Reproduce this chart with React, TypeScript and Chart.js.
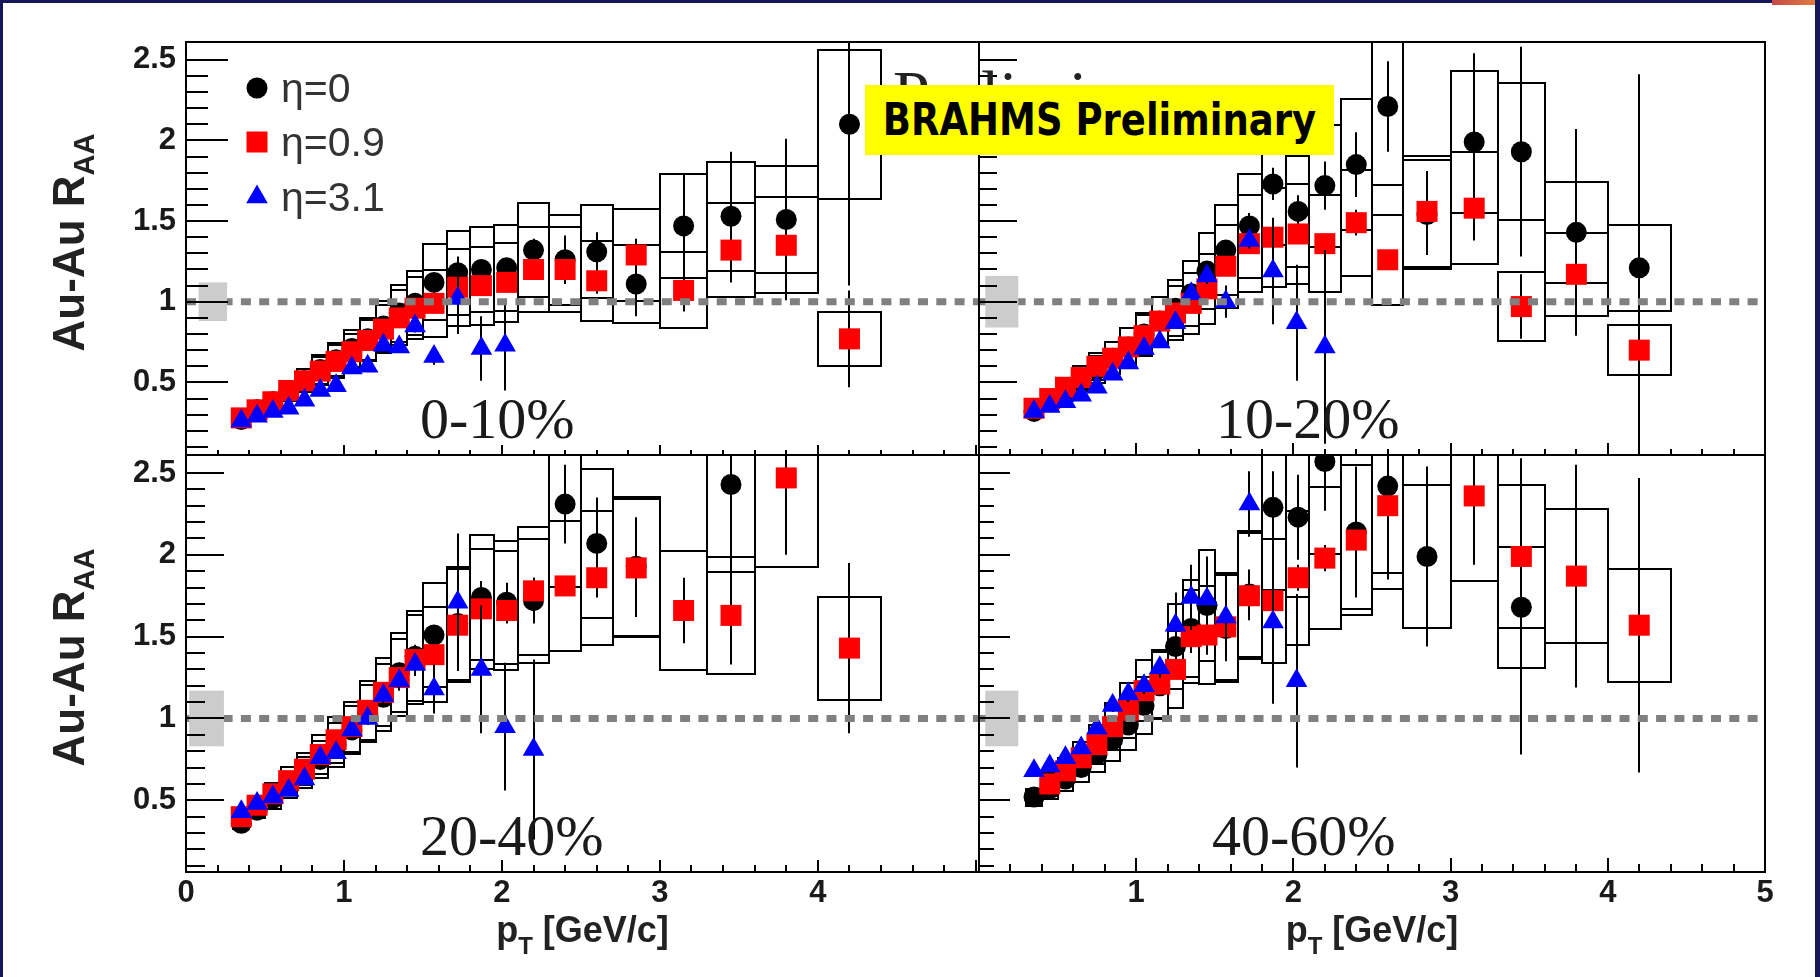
import React, { useEffect, useRef } from 'react';
import { Chart, registerables } from 'chart.js';

Chart.register(...registerables);

const W = 1820;
const H = 977;

// ---------- shared binning ----------
const ptBins = [0.35, 0.45, 0.55, 0.65, 0.75, 0.85, 0.95, 1.05, 1.15, 1.25, 1.35, 1.45, 1.57, 1.72, 1.87, 2.03, 2.2, 2.4, 2.6, 2.85, 3.15, 3.45, 3.8, 4.2];
const ptEdges = [0.3, 0.4, 0.5, 0.6, 0.7, 0.8, 0.9, 1.0, 1.1, 1.2, 1.3, 1.4, 1.5, 1.65, 1.8, 1.95, 2.1, 2.3, 2.5, 2.7, 3.0, 3.3, 3.6, 4.0, 4.4];
const ptFwd = [0.35, 0.45, 0.55, 0.65, 0.75, 0.85, 0.95, 1.05, 1.15, 1.25, 1.35, 1.45, 1.57, 1.72, 1.87, 2.02, 2.2];
const sysFrac = [0.10, 0.11, 0.12, 0.13, 0.14, 0.15, 0.16, 0.16, 0.17, 0.18, 0.19, 0.20, 0.21, 0.22, 0.22, 0.22, 0.22, 0.22, 0.22, 0.22, 0.22, 0.22, 0.22, 0.22];

// ---------- ticks ----------
const yMajor = [0.5, 1, 1.5, 2, 2.5];
const yMinor = [0.1, 0.2, 0.3, 0.4, 0.6, 0.7, 0.8, 0.9, 1.1, 1.2, 1.3, 1.4, 1.6, 1.7, 1.8, 1.9, 2.1, 2.2, 2.3, 2.4];
const xMajor = [0, 1, 2, 3, 4, 5];
const xMinor = [0.2, 0.4, 0.6, 0.8, 1.2, 1.4, 1.6, 1.8, 2.2, 2.4, 2.6, 2.8, 3.2, 3.4, 3.6, 3.8, 4.2, 4.4, 4.6, 4.8];
const xLabelsLeft = [0, 1, 2, 3, 4];
const xLabelsRight = [1, 2, 3, 4, 5];

// ---------- 0-10% ----------
const c0_eta0 = [0.27, 0.33, 0.38, 0.44, 0.51, 0.58, 0.64, 0.71, 0.77, 0.85, 0.93, 0.99, 1.12, 1.18, 1.20, 1.21, 1.32, 1.26, 1.31, 1.11, 1.47, 1.53, 1.51, 2.10];
const c0_eta0Err = [0.01, 0.01, 0.01, 0.01, 0.01, 0.02, 0.02, 0.02, 0.02, 0.03, 0.03, 0.03, 0.04, 0.10, 0.05, 0.05, 0.07, 0.15, 0.12, 0.20, 0.32, 0.40, 0.50, 1.00];
const c0_eta09 = [0.28, 0.33, 0.38, 0.45, 0.51, 0.57, 0.63, 0.69, 0.76, 0.83, 0.90, 0.96, 0.99, 1.09, 1.10, 1.12, 1.20, 1.20, 1.13, 1.29, 1.07, 1.32, 1.35, 0.77];
const c0_eta09Err = [0.01, 0.01, 0.01, 0.01, 0.01, 0.01, 0.02, 0.02, 0.02, 0.02, 0.03, 0.03, 0.04, 0.05, 0.06, 0.06, 0.06, 0.07, 0.08, 0.10, 0.13, 0.20, 0.30, 0.30];
const c0_eta31 = [0.26, 0.29, 0.32, 0.34, 0.39, 0.45, 0.48, 0.59, 0.60, 0.73, 0.72, 0.85, 0.66, 1.02, 0.71, 0.73];
const c0_eta31Err = [0.01, 0.01, 0.01, 0.01, 0.01, 0.02, 0.02, 0.02, 0.02, 0.03, 0.03, 0.04, 0.05, 0.22, 0.20, 0.28];

// ---------- 10-20% ----------
const c1_eta0 = [0.32, 0.38, 0.44, 0.51, 0.58, 0.65, 0.72, 0.80, 0.88, 0.96, 1.05, 1.19, 1.32, 1.47, 1.73, 1.56, 1.72, 1.85, 2.21, 1.54, 1.99, 1.93, 1.43, 1.21];
const c1_eta0Err = [0.01, 0.01, 0.01, 0.01, 0.02, 0.02, 0.02, 0.02, 0.03, 0.03, 0.04, 0.05, 0.06, 0.08, 0.10, 0.10, 0.15, 0.20, 0.28, 0.25, 0.55, 0.65, 0.64, 1.20];
const c1_eta09 = [0.34, 0.40, 0.47, 0.53, 0.60, 0.65, 0.72, 0.79, 0.88, 0.93, 0.99, 1.08, 1.22, 1.36, 1.40, 1.42, 1.36, 1.49, 1.26, 1.56, 1.58, 0.97, 1.17, 0.70];
const c1_eta09Err = [0.01, 0.01, 0.01, 0.01, 0.01, 0.02, 0.02, 0.02, 0.02, 0.03, 0.03, 0.04, 0.04, 0.05, 0.05, 0.06, 0.06, 0.08, 0.06, 0.25, 0.20, 0.20, 0.38, 0.65];
const c1_eta31 = [0.32, 0.35, 0.38, 0.42, 0.47, 0.55, 0.62, 0.71, 0.75, 0.87, 1.05, 1.16, 1.00, 1.38, 1.19, 0.87, 0.72];
const c1_eta31Err = [0.01, 0.01, 0.01, 0.01, 0.01, 0.02, 0.02, 0.02, 0.03, 0.03, 0.04, 0.05, 0.10, 0.05, 0.33, 0.36, 0.60];

// ---------- 20-40% ----------
const c2_eta0 = [0.36, 0.44, 0.51, 0.59, 0.67, 0.75, 0.84, 0.93, 1.03, 1.13, 1.28, 1.38, 1.51, 1.58, 1.74, 1.71, 1.72, 2.31, 2.07, 1.93, null, 2.43, null, null];
const c2_eta0Err = [0.01, 0.01, 0.01, 0.02, 0.02, 0.02, 0.03, 0.03, 0.04, 0.05, 0.06, 0.07, 0.06, 0.10, 0.10, 0.12, 0.14, 0.24, 0.28, 0.30, 0, 0.80, 0, 0];
const c2_eta09 = [0.40, 0.47, 0.54, 0.62, 0.69, 0.78, 0.87, 0.95, 1.05, 1.16, 1.25, 1.36, 1.39, 1.57, 1.67, 1.66, 1.78, 1.81, 1.86, 1.92, 1.66, 1.63, 2.47, 1.43];
const c2_eta09Err = [0.01, 0.01, 0.01, 0.01, 0.02, 0.02, 0.02, 0.03, 0.03, 0.04, 0.04, 0.05, 0.06, 0.06, 0.07, 0.08, 0.08, 0.06, 0.12, 0.30, 0.20, 0.30, 0.47, 0.52];
const c2_eta31 = [0.43, 0.48, 0.52, 0.56, 0.63, 0.76, 0.79, 0.93, 1.00, 1.14, 1.23, 1.33, 1.18, 1.71, 1.30, 0.95, 0.81];
const c2_eta31Err = [0.01, 0.01, 0.01, 0.02, 0.02, 0.02, 0.03, 0.03, 0.04, 0.05, 0.06, 0.07, 0.15, 0.42, 0.39, 0.39, 0.55];

// ---------- 40-60% ----------
const c3_eta0 = [0.52, 0.57, 0.63, 0.70, 0.78, 0.87, 0.96, 1.08, 1.20, 1.44, 1.55, 1.69, 1.55, 1.76, 2.29, 2.23, 2.57, 2.14, 2.42, 1.99, null, 1.68, null, null];
const c3_eta0Err = [0.02, 0.02, 0.02, 0.02, 0.03, 0.03, 0.04, 0.05, 0.06, 0.10, 0.15, 0.30, 0.10, 0.15, 0.22, 0.26, 0.30, 0.40, 0.35, 0.55, 0, 0.90, 0, 0];
const c3_eta09 = [null, 0.60, 0.68, 0.76, 0.84, 0.95, 1.05, 1.17, 1.21, 1.30, 1.50, 1.51, 1.56, 1.75, 1.72, 1.86, 1.98, 2.09, 2.30, null, 2.36, 1.99, 1.87, 1.57];
const c3_eta09Err = [0, 0.02, 0.02, 0.02, 0.03, 0.03, 0.04, 0.04, 0.05, 0.06, 0.07, 0.07, 0.08, 0.15, 0.10, 0.08, 0.08, 0.12, 0.45, 0, 0.42, 0.60, 0.68, 0.90];
const c3_eta31 = [0.68, 0.71, 0.76, 0.82, 0.94, 1.08, 1.15, 1.20, 1.31, 1.57, 1.74, 1.73, 1.62, 2.31, 1.59, 1.23];
const c3_eta31Err = [0.02, 0.02, 0.02, 0.03, 0.03, 0.04, 0.05, 0.05, 0.06, 0.20, 0.20, 0.15, 0.27, 0.20, 0.50, 0.53];

// normalisation uncertainty (grey box at R=1) per centrality
const normErr = [0.12, 0.16, 0.17, 0.17];
const centralityLabels = ['0-10%', '10-20%', '20-40%', '40-60%'];
const legendLabels = ['η=0', 'η=0.9', 'η=3.1'];

const SANS = '"Liberation Sans", Arial, Helvetica, sans-serif';
const SERIF = '"Liberation Serif", "Times New Roman", serif';
const TRI_R = 12.5;

type Panel = {
  id: number;
  eta0: (number | null)[]; eta0Err: number[];
  eta09: (number | null)[]; eta09Err: number[];
  eta31: (number | null)[]; eta31Err: number[];
  normX: [number, number];
  area: { left: number; top: number; right: number; bottom: number };
  xMax: number; yMin: number; yMax: number;
  xLabels: number[] | null; yLabels: boolean;
  tick: { yMaj: number; yMin: number; xMaj: number; xMin: number };
  labelPos: [number, number];
  legend: boolean; yTitle: boolean; xTitle: boolean; prelim: boolean;
};

const panels: Panel[] = [
  {
    id: 0, eta0: c0_eta0, eta0Err: c0_eta0Err, eta09: c0_eta09, eta09Err: c0_eta09Err, eta31: c0_eta31, eta31Err: c0_eta31Err,
    normX: [0.08, 0.26], area: { left: 186, top: 42, right: 979, bottom: 455 }, xMax: 5.02, yMin: 0.05, yMax: 2.61,
    xLabels: null, yLabels: true, tick: { yMaj: 42, yMin: 22, xMaj: 10, xMin: 5 }, labelPos: [420, 438],
    legend: true, yTitle: true, xTitle: false, prelim: false,
  },
  {
    id: 1, eta0: c1_eta0, eta0Err: c1_eta0Err, eta09: c1_eta09, eta09Err: c1_eta09Err, eta31: c1_eta31, eta31Err: c1_eta31Err,
    normX: [0.04, 0.25], area: { left: 979, top: 42, right: 1765, bottom: 455 }, xMax: 5, yMin: 0.05, yMax: 2.61,
    xLabels: null, yLabels: false, tick: { yMaj: 38, yMin: 18, xMaj: 12, xMin: 6 }, labelPos: [1216, 438],
    legend: false, yTitle: false, xTitle: false, prelim: true,
  },
  {
    id: 2, eta0: c2_eta0, eta0Err: c2_eta0Err, eta09: c2_eta09, eta09Err: c2_eta09Err, eta31: c2_eta31, eta31Err: c2_eta31Err,
    normX: [0.02, 0.24], area: { left: 186, top: 455, right: 979, bottom: 872 }, xMax: 5.02, yMin: 0.062, yMax: 2.61,
    xLabels: xLabelsLeft, yLabels: true, tick: { yMaj: 38, yMin: 19, xMaj: 12, xMin: 7 }, labelPos: [420, 855],
    legend: false, yTitle: true, xTitle: true, prelim: false,
  },
  {
    id: 3, eta0: c3_eta0, eta0Err: c3_eta0Err, eta09: c3_eta09, eta09Err: c3_eta09Err, eta31: c3_eta31, eta31Err: c3_eta31Err,
    normX: [0.04, 0.25], area: { left: 979, top: 455, right: 1765, bottom: 872 }, xMax: 5, yMin: 0.062, yMax: 2.61,
    xLabels: xLabelsRight, yLabels: false, tick: { yMaj: 31, yMin: 15, xMaj: 14, xMin: 8 }, labelPos: [1212, 855],
    legend: false, yTitle: false, xTitle: true, prelim: false,
  },
];

function drawMarker(ctx: CanvasRenderingContext2D, style: string, x: number, y: number, color: string) {
  ctx.fillStyle = color;
  ctx.beginPath();
  if (style === 'circle') {
    ctx.arc(x, y, 10.5, 0, Math.PI * 2);
  } else if (style === 'rect') {
    ctx.rect(x - 10.5, y - 10.5, 21, 21);
  } else {
    const r = TRI_R;
    ctx.moveTo(x, y - r);
    ctx.lineTo(x + r * Math.sin((2 * Math.PI) / 3), y - r * Math.cos((2 * Math.PI) / 3));
    ctx.lineTo(x + r * Math.sin((4 * Math.PI) / 3), y - r * Math.cos((4 * Math.PI) / 3));
    ctx.closePath();
  }
  ctx.fill();
}

function makePlugin(p: Panel) {
  return {
    id: 'panelDeco' + p.id,
    beforeDatasetDraw(chart: any, args: any) {
      const ds = chart.data.datasets[args.index];
      const xs = chart.scales.x;
      const ys = chart.scales.y;
      const ca = chart.chartArea;
      const ctx: CanvasRenderingContext2D = chart.ctx;
      ctx.save();
      ctx.beginPath();
      ctx.rect(ca.left, ca.top, ca.right - ca.left, ca.bottom - ca.top);
      ctx.clip();
      ctx.strokeStyle = '#000';
      ctx.lineWidth = 2;
      ds.data.forEach((pt: any, i: number) => {
        if (pt.y == null) return;
        if (ds.sysBox) {
          const s = pt.y * sysFrac[i];
          const x0 = Math.round(xs.getPixelForValue(ptEdges[i]));
          const x1 = Math.round(xs.getPixelForValue(ptEdges[i + 1]));
          const y0 = Math.round(ys.getPixelForValue(pt.y + s));
          const y1 = Math.round(ys.getPixelForValue(pt.y - s));
          ctx.strokeRect(x0, y0, x1 - x0, y1 - y0);
        }
        const e = ds.errs[i];
        if (e > 0) {
          const px = Math.round(xs.getPixelForValue(pt.x));
          ctx.beginPath();
          ctx.moveTo(px, ys.getPixelForValue(pt.y - e));
          ctx.lineTo(px, ys.getPixelForValue(pt.y + e));
          ctx.stroke();
        }
      });
      ctx.restore();
    },
    afterDatasetsDraw(chart: any) {
      const xs = chart.scales.x;
      const ys = chart.scales.y;
      const ca = chart.chartArea;
      const ctx: CanvasRenderingContext2D = chart.ctx;
      ctx.save();
      // dashed line at R_AA = 1
      const y1 = ys.getPixelForValue(1);
      ctx.strokeStyle = '#808080';
      ctx.lineWidth = 7;
      ctx.setLineDash([10, 8.3]);
      ctx.beginPath();
      ctx.moveTo(ca.left, y1);
      ctx.lineTo(ca.right, y1);
      ctx.stroke();
      ctx.setLineDash([]);
      // normalisation box
      const ne = normErr[p.id];
      const bx0 = xs.getPixelForValue(p.normX[0]);
      const bx1 = xs.getPixelForValue(p.normX[1]);
      const by0 = ys.getPixelForValue(1 + ne);
      const by1 = ys.getPixelForValue(1 - ne);
      ctx.fillStyle = '#cccccc';
      ctx.fillRect(bx0, by0, bx1 - bx0, by1 - by0);
      // frame
      ctx.strokeStyle = '#000';
      ctx.lineWidth = 2;
      ctx.strokeRect(ca.left, ca.top, ca.right - ca.left, ca.bottom - ca.top);
      // inward ticks
      ctx.beginPath();
      yMajor.forEach((v) => { const y = Math.round(ys.getPixelForValue(v)); ctx.moveTo(ca.left, y); ctx.lineTo(ca.left + p.tick.yMaj, y); });
      yMinor.forEach((v) => { const y = Math.round(ys.getPixelForValue(v)); ctx.moveTo(ca.left, y); ctx.lineTo(ca.left + p.tick.yMin, y); });
      xMajor.forEach((v) => { if (v > p.xMax) return; const x = Math.round(xs.getPixelForValue(v)); ctx.moveTo(x, ca.bottom); ctx.lineTo(x, ca.bottom - p.tick.xMaj); });
      xMinor.forEach((v) => { const x = Math.round(xs.getPixelForValue(v)); ctx.moveTo(x, ca.bottom); ctx.lineTo(x, ca.bottom - p.tick.xMin); });
      ctx.stroke();
      // centrality label
      ctx.fillStyle = '#1a1a1a';
      ctx.font = '58px ' + SERIF;
      ctx.textAlign = 'left';
      ctx.textBaseline = 'alphabetic';
      ctx.fillText(centralityLabels[p.id], p.labelPos[0], p.labelPos[1]);
      // legend
      if (p.legend) {
        const styles = ['circle', 'rect', 'triangle'];
        const colors = ['#000000', '#ff0000', '#0000ff'];
        const ly = [88, 142, 197];
        ctx.font = '41px ' + SANS;
        for (let i = 0; i < 3; i++) {
          drawMarker(ctx, styles[i], 257, ly[i], colors[i]);
          ctx.fillStyle = '#333';
          ctx.fillText(legendLabels[i], 281, ly[i] + 14);
        }
      }
      // y title
      if (p.yTitle) {
        const cy = (ca.top + ca.bottom) / 2 - 6;
        ctx.save();
        ctx.translate(84, cy);
        ctx.rotate(-Math.PI / 2);
        ctx.fillStyle = '#222';
        ctx.font = 'bold 44px ' + SANS;
        const main = 'Au-Au R';
        const wm = ctx.measureText(main).width;
        ctx.font = 'bold 29px ' + SANS;
        const ws = ctx.measureText('AA').width;
        const start = -(wm + ws) / 2;
        ctx.font = 'bold 44px ' + SANS;
        ctx.fillText(main, start, 0);
        ctx.font = 'bold 29px ' + SANS;
        ctx.fillText('AA', start + wm, 10);
        ctx.restore();
      }
      // x title
      if (p.xTitle) {
        const cx = (ca.left + ca.right) / 2;
        ctx.fillStyle = '#222';
        ctx.font = 'bold 36px ' + SANS;
        const wp = ctx.measureText('p').width;
        const wr = ctx.measureText(' [GeV/c]').width;
        ctx.font = 'bold 24px ' + SANS;
        const wt = ctx.measureText('T').width;
        const start = cx - (wp + wt + wr) / 2;
        ctx.font = 'bold 36px ' + SANS;
        ctx.fillText('p', start, 942);
        ctx.fillText(' [GeV/c]', start + wp + wt, 942);
        ctx.font = 'bold 24px ' + SANS;
        ctx.fillText('T', start + wp, 954);
      }
      // faint "Preliminary" stamp partly hidden behind the yellow banner
      if (p.prelim) {
        ctx.fillStyle = '#222';
        ctx.font = '66px ' + SERIF;
        ctx.fillText('Preliminary', 893, 116);
      }
      ctx.restore();
    },
  };
}

function buildConfig(p: Panel): any {
  const mk = (xsArr: number[], ysArr: (number | null)[]) => xsArr.slice(0, ysArr.length).map((x, i) => ({ x, y: ysArr[i] }));
  const tickFont = { family: '"Liberation Sans", Arial, sans-serif', size: 31, weight: 'bold' as const };
  return {
    type: 'scatter',
    data: {
      datasets: [
        {
          label: legendLabels[0], data: mk(ptBins, p.eta0), errs: p.eta0Err, sysBox: true,
          pointStyle: 'circle', pointRadius: 10.5, pointBackgroundColor: '#000000', pointBorderColor: '#000000', pointBorderWidth: 0,
          backgroundColor: '#000000', borderColor: '#000000', order: 3,
        },
        {
          label: legendLabels[1], data: mk(ptBins, p.eta09), errs: p.eta09Err, sysBox: true,
          pointStyle: 'rect', pointRadius: 14.85, pointBackgroundColor: '#ff0000', pointBorderColor: '#ff0000', pointBorderWidth: 0,
          backgroundColor: '#ff0000', borderColor: '#ff0000', order: 2,
        },
        {
          label: legendLabels[2], data: mk(ptFwd, p.eta31), errs: p.eta31Err, sysBox: false,
          pointStyle: 'triangle', pointRadius: TRI_R, pointBackgroundColor: '#0000ff', pointBorderColor: '#0000ff', pointBorderWidth: 0,
          backgroundColor: '#0000ff', borderColor: '#0000ff', order: 1,
        },
      ],
    },
    options: {
      animation: false,
      responsive: false,
      maintainAspectRatio: false,
      devicePixelRatio: 1,
      events: [],
      layout: {
        autoPadding: false,
        padding: { left: 0, top: p.area.top, right: W - p.area.right, bottom: 0 },
      },
      plugins: { legend: { display: false }, tooltip: { enabled: false }, title: { display: false } },
      scales: {
        x: {
          type: 'linear', min: 0, max: p.xMax,
          grid: { display: false, drawTicks: false }, border: { display: false },
          ticks: {
            display: !!p.xLabels, autoSkip: false, maxRotation: 0, minRotation: 0, padding: 3,
            font: tickFont, color: '#1a1a1a', callback: (v: number) => String(v),
          },
          afterBuildTicks: (s: any) => { s.ticks = (p.xLabels || xMajor).map((v) => ({ value: v })); },
          afterFit: (s: any) => { s.height = H - p.area.bottom; },
        },
        y: {
          type: 'linear', min: p.yMin, max: p.yMax,
          grid: { display: false, drawTicks: false }, border: { display: false },
          ticks: {
            display: p.yLabels, padding: 10, font: tickFont, color: '#1a1a1a',
            callback: (v: number) => String(v),
          },
          afterBuildTicks: (s: any) => { s.ticks = yMajor.map((v) => ({ value: v })); },
          afterFit: (s: any) => { s.width = p.area.left; },
        },
      },
    },
    plugins: [makePlugin(p)],
  };
}

function PanelChart({ panel }: { panel: Panel }) {
  const ref = useRef<HTMLCanvasElement | null>(null);
  useEffect(() => {
    if (!ref.current) return;
    const chart = new Chart(ref.current, buildConfig(panel));
    return () => chart.destroy();
  }, [panel]);
  return (
    <canvas
      ref={ref}
      width={W}
      height={H}
      style={{ position: 'absolute', left: 0, top: 0, width: W, height: H }}
    />
  );
}

export default function App() {
  useEffect(() => {
    document.body.style.margin = '0';
  }, []);
  return (
    <div style={{ position: 'absolute', left: 0, top: 0, width: W, height: H, background: '#ffffff', overflow: 'hidden' }}>
      {panels.map((p) => (
        <PanelChart key={p.id} panel={p} />
      ))}
      <div
        style={{
          position: 'absolute', left: 865, top: 85, width: 469, height: 70, background: '#ffff00',
          display: 'flex', alignItems: 'center', justifyContent: 'center',
          color: '#000', whiteSpace: 'nowrap', overflow: 'hidden',
        }}
      >
        <span style={{ font: 'bold 37px "DejaVu Sans", sans-serif', display: 'inline-block', transform: 'scaleY(1.18)' }}>
          BRAHMS Preliminary
        </span>
      </div>
      <div style={{ position: 'absolute', left: 0, top: 0, width: W, height: 3, background: '#16165a' }} />
      <div style={{ position: 'absolute', left: 0, top: 0, width: 3, height: H, background: '#16165a' }} />
      <div style={{ position: 'absolute', left: W - 5, top: 0, width: 5, height: H, background: '#16165a' }} />
      <div style={{ position: 'absolute', left: 1772, top: 0, width: 43, height: 5, background: 'linear-gradient(90deg, #c84848, #e07a40)' }} />
    </div>
  );
}
